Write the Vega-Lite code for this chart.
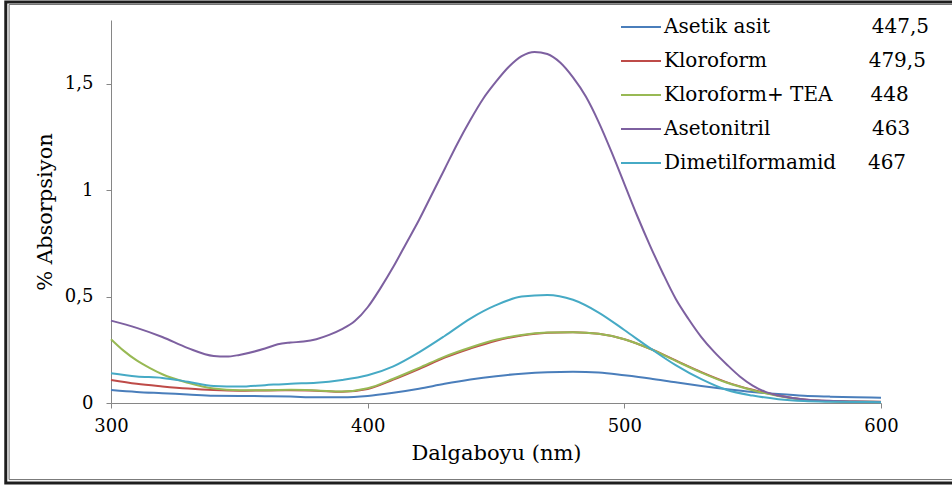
{
  "$schema": "https://vega.github.io/schema/vega-lite/v6.json",
  "width": 770,
  "height": 383,
  "autosize": {"type": "none"},
  "padding": {"left": 111, "top": 20, "right": 71, "bottom": 83},
  "background": "white",
  "config": {
    "view": {"stroke": null},
    "axis": {
      "domainColor": "#868686",
      "tickColor": "#868686",
      "tickSize": 5,
      "grid": false,
      "labelFont": "DejaVu Serif",
      "titleFont": "DejaVu Serif",
      "labelFontSize": 18,
      "labelColor": "#000000",
      "titleFontSize": 21,
      "titleFontWeight": "normal",
      "titleColor": "#000000"
    }
  },
  "datasets": {
    "spektrum": [
      {"cozucu": "Asetik asit", "nm": 300, "abs": 0.061},
      {"cozucu": "Asetik asit", "nm": 310, "abs": 0.052},
      {"cozucu": "Asetik asit", "nm": 320, "abs": 0.046},
      {"cozucu": "Asetik asit", "nm": 330, "abs": 0.040},
      {"cozucu": "Asetik asit", "nm": 340, "abs": 0.034},
      {"cozucu": "Asetik asit", "nm": 350, "abs": 0.033},
      {"cozucu": "Asetik asit", "nm": 360, "abs": 0.032},
      {"cozucu": "Asetik asit", "nm": 370, "abs": 0.030},
      {"cozucu": "Asetik asit", "nm": 380, "abs": 0.027},
      {"cozucu": "Asetik asit", "nm": 390, "abs": 0.027},
      {"cozucu": "Asetik asit", "nm": 400, "abs": 0.033},
      {"cozucu": "Asetik asit", "nm": 410, "abs": 0.048},
      {"cozucu": "Asetik asit", "nm": 420, "abs": 0.067},
      {"cozucu": "Asetik asit", "nm": 430, "abs": 0.090},
      {"cozucu": "Asetik asit", "nm": 440, "abs": 0.110},
      {"cozucu": "Asetik asit", "nm": 450, "abs": 0.126},
      {"cozucu": "Asetik asit", "nm": 460, "abs": 0.138},
      {"cozucu": "Asetik asit", "nm": 470, "abs": 0.145},
      {"cozucu": "Asetik asit", "nm": 480, "abs": 0.147},
      {"cozucu": "Asetik asit", "nm": 490, "abs": 0.143},
      {"cozucu": "Asetik asit", "nm": 500, "abs": 0.130},
      {"cozucu": "Asetik asit", "nm": 510, "abs": 0.115},
      {"cozucu": "Asetik asit", "nm": 520, "abs": 0.097},
      {"cozucu": "Asetik asit", "nm": 530, "abs": 0.080},
      {"cozucu": "Asetik asit", "nm": 540, "abs": 0.065},
      {"cozucu": "Asetik asit", "nm": 550, "abs": 0.052},
      {"cozucu": "Asetik asit", "nm": 560, "abs": 0.042},
      {"cozucu": "Asetik asit", "nm": 570, "abs": 0.034},
      {"cozucu": "Asetik asit", "nm": 580, "abs": 0.030},
      {"cozucu": "Asetik asit", "nm": 590, "abs": 0.027},
      {"cozucu": "Asetik asit", "nm": 600, "abs": 0.025},

      {"cozucu": "Kloroform", "nm": 300, "abs": 0.108},
      {"cozucu": "Kloroform", "nm": 310, "abs": 0.090},
      {"cozucu": "Kloroform", "nm": 320, "abs": 0.078},
      {"cozucu": "Kloroform", "nm": 330, "abs": 0.068},
      {"cozucu": "Kloroform", "nm": 340, "abs": 0.061},
      {"cozucu": "Kloroform", "nm": 350, "abs": 0.058},
      {"cozucu": "Kloroform", "nm": 360, "abs": 0.059},
      {"cozucu": "Kloroform", "nm": 370, "abs": 0.060},
      {"cozucu": "Kloroform", "nm": 380, "abs": 0.058},
      {"cozucu": "Kloroform", "nm": 390, "abs": 0.053},
      {"cozucu": "Kloroform", "nm": 400, "abs": 0.066},
      {"cozucu": "Kloroform", "nm": 410, "abs": 0.110},
      {"cozucu": "Kloroform", "nm": 420, "abs": 0.160},
      {"cozucu": "Kloroform", "nm": 430, "abs": 0.213},
      {"cozucu": "Kloroform", "nm": 440, "abs": 0.256},
      {"cozucu": "Kloroform", "nm": 450, "abs": 0.293},
      {"cozucu": "Kloroform", "nm": 460, "abs": 0.317},
      {"cozucu": "Kloroform", "nm": 470, "abs": 0.330},
      {"cozucu": "Kloroform", "nm": 480, "abs": 0.333},
      {"cozucu": "Kloroform", "nm": 490, "abs": 0.325},
      {"cozucu": "Kloroform", "nm": 500, "abs": 0.300},
      {"cozucu": "Kloroform", "nm": 510, "abs": 0.255},
      {"cozucu": "Kloroform", "nm": 520, "abs": 0.200},
      {"cozucu": "Kloroform", "nm": 530, "abs": 0.145},
      {"cozucu": "Kloroform", "nm": 540, "abs": 0.097},
      {"cozucu": "Kloroform", "nm": 550, "abs": 0.062},
      {"cozucu": "Kloroform", "nm": 560, "abs": 0.035},
      {"cozucu": "Kloroform", "nm": 570, "abs": 0.016},
      {"cozucu": "Kloroform", "nm": 580, "abs": 0.009},
      {"cozucu": "Kloroform", "nm": 590, "abs": 0.007},
      {"cozucu": "Kloroform", "nm": 600, "abs": 0.006},

      {"cozucu": "Kloroform+ TEA", "nm": 300, "abs": 0.300},
      {"cozucu": "Kloroform+ TEA", "nm": 305, "abs": 0.245},
      {"cozucu": "Kloroform+ TEA", "nm": 310, "abs": 0.200},
      {"cozucu": "Kloroform+ TEA", "nm": 315, "abs": 0.165},
      {"cozucu": "Kloroform+ TEA", "nm": 320, "abs": 0.135},
      {"cozucu": "Kloroform+ TEA", "nm": 330, "abs": 0.095},
      {"cozucu": "Kloroform+ TEA", "nm": 340, "abs": 0.068},
      {"cozucu": "Kloroform+ TEA", "nm": 350, "abs": 0.060},
      {"cozucu": "Kloroform+ TEA", "nm": 360, "abs": 0.060},
      {"cozucu": "Kloroform+ TEA", "nm": 370, "abs": 0.062},
      {"cozucu": "Kloroform+ TEA", "nm": 380, "abs": 0.059},
      {"cozucu": "Kloroform+ TEA", "nm": 390, "abs": 0.054},
      {"cozucu": "Kloroform+ TEA", "nm": 400, "abs": 0.069},
      {"cozucu": "Kloroform+ TEA", "nm": 410, "abs": 0.114},
      {"cozucu": "Kloroform+ TEA", "nm": 420, "abs": 0.165},
      {"cozucu": "Kloroform+ TEA", "nm": 430, "abs": 0.218},
      {"cozucu": "Kloroform+ TEA", "nm": 440, "abs": 0.261},
      {"cozucu": "Kloroform+ TEA", "nm": 450, "abs": 0.297},
      {"cozucu": "Kloroform+ TEA", "nm": 460, "abs": 0.320},
      {"cozucu": "Kloroform+ TEA", "nm": 470, "abs": 0.331},
      {"cozucu": "Kloroform+ TEA", "nm": 480, "abs": 0.333},
      {"cozucu": "Kloroform+ TEA", "nm": 490, "abs": 0.325},
      {"cozucu": "Kloroform+ TEA", "nm": 500, "abs": 0.300},
      {"cozucu": "Kloroform+ TEA", "nm": 510, "abs": 0.255},
      {"cozucu": "Kloroform+ TEA", "nm": 520, "abs": 0.198},
      {"cozucu": "Kloroform+ TEA", "nm": 530, "abs": 0.143},
      {"cozucu": "Kloroform+ TEA", "nm": 540, "abs": 0.095},
      {"cozucu": "Kloroform+ TEA", "nm": 550, "abs": 0.060},
      {"cozucu": "Kloroform+ TEA", "nm": 560, "abs": 0.033},
      {"cozucu": "Kloroform+ TEA", "nm": 570, "abs": 0.015},
      {"cozucu": "Kloroform+ TEA", "nm": 580, "abs": 0.008},
      {"cozucu": "Kloroform+ TEA", "nm": 590, "abs": 0.006},
      {"cozucu": "Kloroform+ TEA", "nm": 600, "abs": 0.005},

      {"cozucu": "Asetonitril", "nm": 300, "abs": 0.387},
      {"cozucu": "Asetonitril", "nm": 310, "abs": 0.353},
      {"cozucu": "Asetonitril", "nm": 320, "abs": 0.310},
      {"cozucu": "Asetonitril", "nm": 330, "abs": 0.258},
      {"cozucu": "Asetonitril", "nm": 340, "abs": 0.221},
      {"cozucu": "Asetonitril", "nm": 345, "abs": 0.218},
      {"cozucu": "Asetonitril", "nm": 350, "abs": 0.226},
      {"cozucu": "Asetonitril", "nm": 360, "abs": 0.256},
      {"cozucu": "Asetonitril", "nm": 365, "abs": 0.276},
      {"cozucu": "Asetonitril", "nm": 370, "abs": 0.284},
      {"cozucu": "Asetonitril", "nm": 375, "abs": 0.289},
      {"cozucu": "Asetonitril", "nm": 380, "abs": 0.300},
      {"cozucu": "Asetonitril", "nm": 385, "abs": 0.320},
      {"cozucu": "Asetonitril", "nm": 390, "abs": 0.347},
      {"cozucu": "Asetonitril", "nm": 395, "abs": 0.385},
      {"cozucu": "Asetonitril", "nm": 400, "abs": 0.450},
      {"cozucu": "Asetonitril", "nm": 405, "abs": 0.540},
      {"cozucu": "Asetonitril", "nm": 410, "abs": 0.640},
      {"cozucu": "Asetonitril", "nm": 415, "abs": 0.750},
      {"cozucu": "Asetonitril", "nm": 420, "abs": 0.860},
      {"cozucu": "Asetonitril", "nm": 425, "abs": 0.980},
      {"cozucu": "Asetonitril", "nm": 430, "abs": 1.100},
      {"cozucu": "Asetonitril", "nm": 435, "abs": 1.220},
      {"cozucu": "Asetonitril", "nm": 440, "abs": 1.330},
      {"cozucu": "Asetonitril", "nm": 445, "abs": 1.430},
      {"cozucu": "Asetonitril", "nm": 450, "abs": 1.510},
      {"cozucu": "Asetonitril", "nm": 455, "abs": 1.580},
      {"cozucu": "Asetonitril", "nm": 460, "abs": 1.630},
      {"cozucu": "Asetonitril", "nm": 465, "abs": 1.650},
      {"cozucu": "Asetonitril", "nm": 470, "abs": 1.640},
      {"cozucu": "Asetonitril", "nm": 475, "abs": 1.600},
      {"cozucu": "Asetonitril", "nm": 480, "abs": 1.530},
      {"cozucu": "Asetonitril", "nm": 485, "abs": 1.440},
      {"cozucu": "Asetonitril", "nm": 490, "abs": 1.320},
      {"cozucu": "Asetonitril", "nm": 495, "abs": 1.180},
      {"cozucu": "Asetonitril", "nm": 500, "abs": 1.030},
      {"cozucu": "Asetonitril", "nm": 505, "abs": 0.880},
      {"cozucu": "Asetonitril", "nm": 510, "abs": 0.740},
      {"cozucu": "Asetonitril", "nm": 515, "abs": 0.610},
      {"cozucu": "Asetonitril", "nm": 520, "abs": 0.490},
      {"cozucu": "Asetonitril", "nm": 525, "abs": 0.395},
      {"cozucu": "Asetonitril", "nm": 530, "abs": 0.310},
      {"cozucu": "Asetonitril", "nm": 535, "abs": 0.240},
      {"cozucu": "Asetonitril", "nm": 540, "abs": 0.180},
      {"cozucu": "Asetonitril", "nm": 545, "abs": 0.125},
      {"cozucu": "Asetonitril", "nm": 550, "abs": 0.082},
      {"cozucu": "Asetonitril", "nm": 555, "abs": 0.052},
      {"cozucu": "Asetonitril", "nm": 560, "abs": 0.035},
      {"cozucu": "Asetonitril", "nm": 570, "abs": 0.017},
      {"cozucu": "Asetonitril", "nm": 580, "abs": 0.010},
      {"cozucu": "Asetonitril", "nm": 590, "abs": 0.007},
      {"cozucu": "Asetonitril", "nm": 600, "abs": 0.005},

      {"cozucu": "Dimetilformamid", "nm": 300, "abs": 0.140},
      {"cozucu": "Dimetilformamid", "nm": 310, "abs": 0.125},
      {"cozucu": "Dimetilformamid", "nm": 320, "abs": 0.118},
      {"cozucu": "Dimetilformamid", "nm": 330, "abs": 0.100},
      {"cozucu": "Dimetilformamid", "nm": 340, "abs": 0.080},
      {"cozucu": "Dimetilformamid", "nm": 350, "abs": 0.077},
      {"cozucu": "Dimetilformamid", "nm": 360, "abs": 0.084},
      {"cozucu": "Dimetilformamid", "nm": 370, "abs": 0.091},
      {"cozucu": "Dimetilformamid", "nm": 380, "abs": 0.095},
      {"cozucu": "Dimetilformamid", "nm": 390, "abs": 0.108},
      {"cozucu": "Dimetilformamid", "nm": 400, "abs": 0.130},
      {"cozucu": "Dimetilformamid", "nm": 410, "abs": 0.172},
      {"cozucu": "Dimetilformamid", "nm": 420, "abs": 0.238},
      {"cozucu": "Dimetilformamid", "nm": 430, "abs": 0.315},
      {"cozucu": "Dimetilformamid", "nm": 440, "abs": 0.397},
      {"cozucu": "Dimetilformamid", "nm": 450, "abs": 0.460},
      {"cozucu": "Dimetilformamid", "nm": 460, "abs": 0.500},
      {"cozucu": "Dimetilformamid", "nm": 470, "abs": 0.508},
      {"cozucu": "Dimetilformamid", "nm": 480, "abs": 0.485},
      {"cozucu": "Dimetilformamid", "nm": 490, "abs": 0.425},
      {"cozucu": "Dimetilformamid", "nm": 500, "abs": 0.343},
      {"cozucu": "Dimetilformamid", "nm": 510, "abs": 0.258},
      {"cozucu": "Dimetilformamid", "nm": 520, "abs": 0.178},
      {"cozucu": "Dimetilformamid", "nm": 530, "abs": 0.112},
      {"cozucu": "Dimetilformamid", "nm": 540, "abs": 0.061},
      {"cozucu": "Dimetilformamid", "nm": 550, "abs": 0.035},
      {"cozucu": "Dimetilformamid", "nm": 560, "abs": 0.018},
      {"cozucu": "Dimetilformamid", "nm": 570, "abs": 0.009},
      {"cozucu": "Dimetilformamid", "nm": 580, "abs": 0.006},
      {"cozucu": "Dimetilformamid", "nm": 590, "abs": 0.005},
      {"cozucu": "Dimetilformamid", "nm": 600, "abs": 0.004}
    ]
  },
  "layer": [
    {
      "data": {"name": "spektrum"},
      "mark": {"type": "line", "interpolate": "monotone", "strokeWidth": 2},
      "encoding": {
        "x": {
          "field": "nm",
          "type": "quantitative",
          "title": "Dalgaboyu (nm)",
          "scale": {"domain": [300, 600], "nice": false, "zero": false},
          "axis": {
            "values": [300, 400, 500, 600],
            "labelFlush": false,
            "labelPadding": 9,
            "titlePadding": 7
          }
        },
        "y": {
          "field": "abs",
          "type": "quantitative",
          "title": "% Absorpsiyon",
          "scale": {"domain": [0, 1.8], "nice": false},
          "axis": {
            "values": [0, 0.5, 1, 1.5],
            "labelExpr": "replace(toString(datum.value), '.', ',')",
            "labelPadding": 13,
            "titlePadding": 9
          }
        },
        "color": {
          "field": "cozucu",
          "type": "nominal",
          "scale": {
            "domain": ["Asetik asit", "Kloroform", "Kloroform+ TEA", "Asetonitril", "Dimetilformamid"],
            "range": ["#4A7EBB", "#BE4B48", "#98B954", "#7D60A0", "#46AAC5"]
          },
          "legend": {
            "title": null,
            "orient": "none",
            "legendX": 509,
            "legendY": -14,
            "symbolType": "stroke",
            "symbolSize": 1600,
            "symbolStrokeWidth": 2,
            "labelFont": "DejaVu Serif",
            "labelFontSize": 20,
            "labelColor": "#000000",
            "labelLimit": 500,
            "labelOffset": 2,
            "rowPadding": 3,
            "labelExpr": "datum.label === 'Asetik asit' ? 'Asetik asit\u00a0\u00a0\u00a0\u00a0\u00a0\u00a0\u00a0\u00a0\u00a0\u00a0\u00a0\u00a0\u00a0\u00a0\u00a0\u00a0447,5' : datum.label === 'Kloroform' ? 'Kloroform\u00a0\u00a0\u00a0\u00a0\u00a0\u00a0\u00a0\u00a0\u00a0\u00a0\u00a0\u00a0\u00a0\u00a0\u00a0\u00a0479,5' : datum.label === 'Kloroform+ TEA' ? 'Kloroform+ TEA\u00a0\u00a0\u00a0\u00a0\u00a0\u00a0448' : datum.label === 'Asetonitril' ? 'Asetonitril\u00a0\u00a0\u00a0\u00a0\u00a0\u00a0\u00a0\u00a0\u00a0\u00a0\u00a0\u00a0\u00a0\u00a0\u00a0\u00a0463' : 'Dimetilformamid\u00a0\u00a0\u00a0\u00a0\u00a0467'"
          }
        }
      }
    },
    {
      "data": {"values": [{}]},
      "mark": {"type": "rect", "filled": false, "stroke": "#1e1e1e", "strokeWidth": 3, "clip": false},
      "encoding": {
        "x": {"datum": 259.0, "type": "quantitative"},
        "x2": {"datum": 640},
        "y": {"datum": 1.885, "type": "quantitative"},
        "y2": {"datum": -0.376}
      }
    },
    {
      "data": {"values": [{}]},
      "mark": {"type": "rect", "filled": false, "stroke": "#6e6e6e", "strokeWidth": 1, "clip": false},
      "encoding": {
        "x": {"datum": 260.3, "type": "quantitative"},
        "x2": {"datum": 640},
        "y": {"datum": 1.873, "type": "quantitative"},
        "y2": {"datum": -0.36}
      }
    }
  ]
}
